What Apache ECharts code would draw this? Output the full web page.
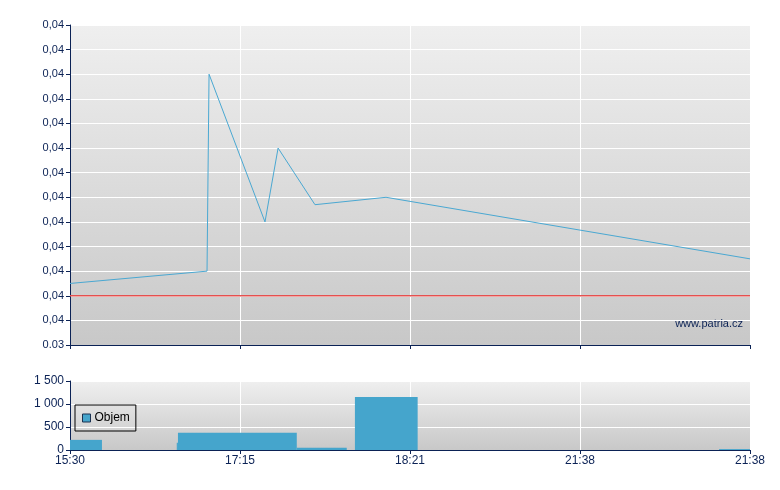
<!DOCTYPE html>
<html><head><meta charset="utf-8">
<script src="https://cdn.jsdelivr.net/npm/echarts@6/dist/echarts.min.js"></script>
<style>html,body{margin:0;padding:0;background:#fff}#c{width:780px;height:490px}</style>
</head><body><div id="c"></div>
<script>
// x positions are in tick-slot units (0..4), ticks labelled with timeLabels
var timeLabels = ["15:30", "17:15", "18:21", "21:38", "21:38"];
var priceX = [0, 0.806, 0.818, 1.147, 1.224, 1.441, 1.859, 4.0];
var priceY = [0.03905, 0.0391, 0.0399, 0.0393, 0.0396, 0.03937, 0.0394, 0.03915];
var refPrice = 0.0390;
var refX = [0, 4];
var priceTickLabels = ["0.03","0,04","0,04","0,04","0,04","0,04","0,04","0,04","0,04","0,04","0,04","0,04","0,04","0,04"];
var priceMin = 0.0388, priceMax = 0.0401, priceStep = 0.0001;
// volume bars: start x, end x, volume
var volStart = [0, 0.628, 0.635, 1.334, 1.676, 3.818];
var volEnd   = [0.188, 0.635, 1.334, 1.628, 2.045, 4.0];
var volValue = [220, 160, 375, 50, 1150, 20];
var volTickLabels = {0:"0", 500:"500", 1000:"1 000", 1500:"1 500"};

var navy = "#0b2255";
var font = "Liberation Sans, Arial, sans-serif";
function bg(){ return new echarts.graphic.LinearGradient(0,0,0,1,[{offset:0,color:"#efefef"},{offset:1,color:"#c8c8c8"}]); }

var chart = echarts.init(document.getElementById("c"));
var lineData = priceX.map(function(x,i){return [x, priceY[i]];});
var refData = refX.map(function(x){return [x, refPrice];});
var volData = volStart.map(function(s,i){return [s, volEnd[i], volValue[i]];});

chart.setOption({
  animation:false,
  textStyle:{fontFamily:font},
  grid:[
    {left:70,right:30,top:25,height:320,show:true,backgroundColor:bg(),borderWidth:0},
    {left:70,right:30,top:381,height:69,show:true,backgroundColor:bg(),borderWidth:0}
  ],
  legend:{
    data:[{name:"Objem",icon:"rect",itemStyle:{color:"#45a5cc",borderColor:"#1a3050",borderWidth:1}}],
    left:75, top:405, orient:"vertical",
    padding:[7,6,7,7],
    borderColor:"#000", borderWidth:1,
    itemWidth:8, itemHeight:8, itemGap:0,
    textStyle:{color:"#000",fontSize:12,fontFamily:font,padding:[0,0,0,-1]}
  },
  xAxis:[
    {type:"value",gridIndex:0,min:0,max:4,interval:1,
     axisLine:{show:true,onZero:false,lineStyle:{color:navy,width:1}},
     axisTick:{show:true,length:4,lineStyle:{color:navy}},
     axisLabel:{show:false},
     splitLine:{show:true,lineStyle:{color:"#ffffff",width:1}}},
    {type:"value",gridIndex:1,min:0,max:4,interval:1,
     axisLine:{show:true,onZero:false,lineStyle:{color:navy,width:1}},
     axisTick:{show:true,length:4,lineStyle:{color:navy}},
     axisLabel:{show:true,color:navy,fontSize:12,margin:5,fontFamily:font,
       formatter:function(v){return timeLabels[Math.round(v)];}},
     splitLine:{show:true,lineStyle:{color:"#ffffff",width:1}}}
  ],
  yAxis:[
    {type:"value",gridIndex:0,min:priceMin,max:priceMax,interval:priceStep,
     axisLine:{show:true,lineStyle:{color:navy,width:1}},
     axisTick:{show:true,length:4,lineStyle:{color:navy}},
     axisLabel:{color:navy,fontSize:11,margin:6,fontFamily:font,
       formatter:function(v){return priceTickLabels[Math.round((v-priceMin)/priceStep)];}},
     splitLine:{show:true,lineStyle:{color:"#ffffff",width:1}}},
    {type:"value",gridIndex:1,min:0,max:1500,interval:500,
     axisLine:{show:true,lineStyle:{color:navy,width:1}},
     axisTick:{show:true,length:4,lineStyle:{color:navy}},
     axisLabel:{color:navy,fontSize:12,margin:6,fontFamily:font,
       formatter:function(v){return volTickLabels[Math.round(v)];}},
     splitLine:{show:true,lineStyle:{color:"#ffffff",width:1}}}
  ],
  series:[
    {type:"line",name:"Ref",xAxisIndex:0,yAxisIndex:0,data:refData,
     symbol:"none",silent:true,lineStyle:{color:"#e4504f",width:1.5},z:1},
    {type:"line",name:"Cena",xAxisIndex:0,yAxisIndex:0,data:lineData,
     symbol:"none",lineStyle:{color:"#4aa8d2",width:1},z:2},
    {type:"custom",name:"Objem",xAxisIndex:1,yAxisIndex:1,data:volData,
     itemStyle:{color:"#45a5cc"},
     renderItem:function(params,api){
       var p0 = api.coord([api.value(0), api.value(2)]);
       var p1 = api.coord([api.value(1), 0]);
       return {type:"rect",shape:{x:p0[0],y:p0[1],width:p1[0]-p0[0],height:p1[1]-p0[1]},
         style:{fill:"#45a5cc"}};
     },
     encode:{x:[0,1],y:2}}
  ],
  graphic:[
    {type:"text",right:37,top:318,style:{text:"www.patria.cz",fill:navy,font:"11px "+font}}
  ]
});
</script></body></html>
